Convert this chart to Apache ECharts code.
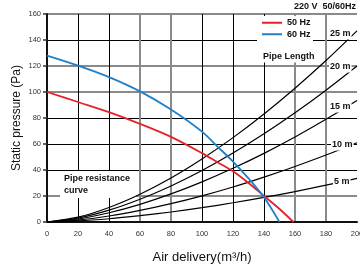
<!DOCTYPE html>
<html>
<head>
<meta charset="utf-8">
<script src="https://cdn.jsdelivr.net/npm/echarts@6/dist/echarts.min.js"></script>
<style>
  html, body { margin: 0; padding: 0; background: #fff; }
  #chart { width: 360px; height: 266px; }
</style>
</head>
<body>
<div id="chart"></div>
<script>
// fan curves
var hz50X = [0, 20, 40, 60, 80, 100, 110, 120, 130, 140, 150, 159];
var hz50 = [100, 92.3, 84.5, 75.5, 65.5, 53, 46, 39, 30, 20, 10, 0];
var hz60X = [0, 20, 40, 60, 80, 100, 110, 120, 130, 140, 150];
var hz60 = [128, 120.3, 111.5, 100.5, 86.5, 69.5, 58, 46.5, 33.5, 19, 0];

// pipe resistance curves
var pipeX = [0, 20, 40, 60, 80, 100, 120, 140, 160, 180, 200];
var pipe5m = [0, 0.8, 2.5, 4.9, 7.7, 11, 14.8, 18.9, 23.4, 28.3, 33.5];
var pipe10m = [0, 1.5, 4.6, 8.9, 14.1, 20.1, 26.9, 34.5, 42.7, 51.5, 61];
var pipe15m = [0, 2.3, 7.1, 13.6, 21.6, 30.9, 41.3, 52.8, 65.4, 79, 93.5];
var pipe20m = [0, 3, 9.1, 17.5, 27.7, 39.6, 53, 67.8, 84, 101.4, 120];
var pipe25m = [0, 3.7, 11.2, 21.4, 33.9, 48.5, 64.9, 83.1, 102.9, 124.2, 147];
var pipeNames = ["5 m", "10 m", "15 m", "20 m", "25 m"];

function pairs(xs, ys) {
  return xs.map(function (x, i) { return [x, ys[i]]; });
}

var myChart = echarts.init(document.getElementById("chart"));
var font = '"Liberation Sans", Arial, sans-serif';
var B = "#000";
var G = "#8a8a8a";
var T = "rgba(0,0,0,0)";

var pipeSeries = [pipe5m, pipe10m, pipe15m, pipe20m, pipe25m].map(function (ys, i) {
  return {
    name: pipeNames[i],
    type: "line",
    data: pairs(pipeX, ys),
    smooth: 0.3,
    showSymbol: false,
    symbol: "none",
    silent: true,
    lineStyle: { color: "#000", width: 1.2 },
  };
});

function label(text, x, y, align) {
  return {
    type: "text",
    x: x,
    y: y,
    z: 10,
    style: {
      text: text,
      font: "bold 9px " + font,
      fill: "#111",
      align: align || "left",
      verticalAlign: "middle",
      backgroundColor: "#fff",
      padding: [1, 1],
    },
  };
}

var option = {
  animation: false,
  backgroundColor: "#fff",
  grid: { left: 47, right: 3, top: 14, bottom: 44, outerBoundsMode: "none" },
  legend: {
    data: ["50 Hz", "60 Hz"],
    orient: "vertical",
    left: 262,
    top: 17,
    itemWidth: 20,
    itemHeight: 2,
    itemGap: 0,
    icon: "rect",
    textStyle: { fontFamily: font, fontWeight: "bold", fontSize: 9, color: "#111", lineHeight: 11.5 },
    padding: 0,
  },
  xAxis: [
    {
      type: "value",
      min: 0,
      max: 200,
      interval: 20,
      name: "Air delivery(m\u00b3/h)",
      nameLocation: "middle",
      nameGap: 29,
      nameTextStyle: { fontFamily: font, fontSize: 13, color: "#111" },
      axisLine: { show: true, onZero: false, lineStyle: { color: "#111", width: 2 } },
      axisTick: { show: false },
      axisLabel: { fontFamily: font, fontSize: 7.5, color: "#333", margin: 8 },
      splitLine: { show: true, lineStyle: { color: [B, B, B, T, T, B, B, B, T, T, T], width: 1 } },
    },
    {
      type: "value",
      min: 0,
      max: 200,
      interval: 20,
      axisLine: { show: false },
      axisTick: { show: false },
      axisLabel: { show: false },
      splitLine: { show: true, lineStyle: { color: [T, T, T, G, G, T, T, T, G, G, T], width: 2 } },
    },
  ],
  yAxis: [
    {
      type: "value",
      min: 0,
      max: 160,
      interval: 20,
      name: "Static pressure (Pa)",
      nameLocation: "middle",
      nameGap: 24,
      nameMoveOverlap: false,
      nameTextStyle: { fontFamily: font, fontSize: 12, color: "#111" },
      axisLine: { show: true, onZero: false, lineStyle: { color: "#111", width: 2 } },
      axisTick: { show: true, length: 4, lineStyle: { color: "#333", width: 1.5 } },
      axisLabel: { fontFamily: font, fontSize: 7.5, color: "#333", margin: 6 },
      splitLine: { show: true, lineStyle: { color: [B, T, B, B, B, T, T, B, T], width: 1 } },
    },
    {
      type: "value",
      min: 0,
      max: 160,
      interval: 20,
      axisLine: { show: false },
      axisTick: { show: false },
      axisLabel: { show: false },
      splitLine: { show: true, lineStyle: { color: [T, G, T, T, T, G, G, T, G], width: 2 } },
    },
  ],
  series: pipeSeries.concat([
    {
      name: "50 Hz",
      type: "line",
      data: pairs(hz50X, hz50),
      smooth: 0.3,
      showSymbol: false,
      symbol: "none",
      lineStyle: { color: "#e8212b", width: 1.8 },
      itemStyle: { color: "#e8212b" },
      z: 3,
    },
    {
      name: "60 Hz",
      type: "line",
      data: pairs(hz60X, hz60),
      smooth: 0.3,
      showSymbol: false,
      symbol: "none",
      lineStyle: { color: "#1f80c8", width: 1.8 },
      itemStyle: { color: "#1f80c8" },
      z: 3,
    },
  ]),
  graphic: [
    // white boxes over the grid
    { type: "rect", z: 1, shape: { x: 257, y: 16, width: 56, height: 46 }, style: { fill: "#fff" } },
    { type: "rect", z: 1, shape: { x: 60, y: 171, width: 76, height: 27 }, style: { fill: "#fff" } },
    label("Pipe Length", 262, 57),
    label("Pipe resistance", 63, 179),
    label("curve", 63, 191),
    label("220 V  50/60Hz", 357, 7, "right"),
    label("25 m", 329, 34),
    label("20 m", 329, 67),
    label("15 m", 329, 107),
    label("10 m", 331, 145),
    label("5 m", 333, 182),
  ],
};
myChart.setOption(option);
</script>
</body>
</html>
